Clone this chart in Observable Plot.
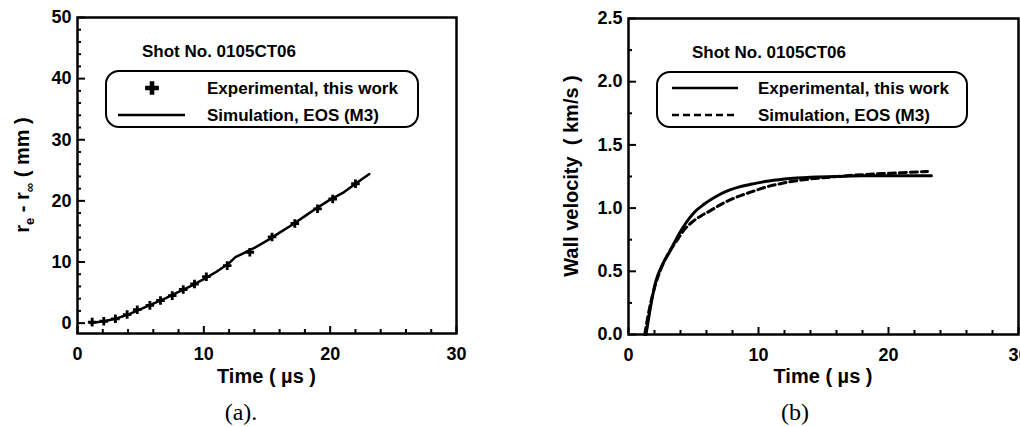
<!DOCTYPE html>
<html><head><meta charset="utf-8">
<script src="https://cdn.jsdelivr.net/npm/d3@7"></script>
<script src="https://cdn.jsdelivr.net/npm/@observablehq/plot@0.6"></script>
<style>
body{margin:0;background:#fff;}
#wrap{position:relative;width:1020px;height:427px;overflow:hidden;background:#fff;}
.panel{position:absolute;top:0;}
#overlay{position:absolute;left:0;top:0;pointer-events:none;}
</style></head>
<body>
<div id="wrap">
  <div id="pa" class="panel" style="left:0"></div>
  <div id="pb" class="panel" style="left:510px"></div>
</div>
<script>
// ---------- data: panel (a) ----------
const expTimeA = [1.16, 2.08, 3.0, 3.93, 4.73, 5.73, 6.57, 7.5, 8.37, 9.26, 10.2, 11.85, 13.64, 15.4, 17.2, 19.0, 20.2, 22.0];
const expRadA  = [0.16, 0.3, 0.7, 1.4, 2.2, 2.9, 3.7, 4.5, 5.5, 6.4, 7.6, 9.4, 11.6, 14.1, 16.3, 18.7, 20.3, 22.8];
const simTimeA = [1.0, 2.0, 3.0, 4.0, 5.0, 6.0, 7.0, 8.0, 9.0, 10.0, 11.0, 12.0, 12.5, 13.0, 14.0, 15.0, 16.0, 17.0, 18.0, 19.0, 20.0, 21.0, 22.0, 23.1];
const simRadA  = [0.0, 0.25, 0.7, 1.4, 2.3, 3.2, 4.1, 5.1, 6.1, 7.2, 8.4, 9.8, 10.8, 11.3, 12.3, 13.5, 14.8, 16.1, 17.5, 18.9, 20.2, 21.3, 22.8, 24.4];
// ---------- data: panel (b) ----------
const expTimeB = [1.35, 1.7, 2.1, 2.6, 3.2, 3.8, 4.4, 5.0, 5.8, 6.7, 7.7, 8.6, 9.5, 10.5, 12.0, 14.0, 16.0, 18.0, 20.0, 22.0, 23.3];
const expVelB  = [0, 0.22, 0.42, 0.55, 0.66, 0.78, 0.88, 0.96, 1.03, 1.09, 1.14, 1.17, 1.19, 1.21, 1.23, 1.245, 1.25, 1.255, 1.255, 1.255, 1.255];
const simTimeB = [1.25, 1.6, 2.0, 2.5, 3.0, 3.7, 4.3, 4.9, 5.6, 6.3, 7.3, 8.4, 9.5, 10.7, 12.0, 13.0, 15.0, 17.0, 19.0, 21.0, 23.0];
const simVelB  = [0, 0.2, 0.37, 0.52, 0.63, 0.74, 0.83, 0.89, 0.94, 0.98, 1.04, 1.09, 1.13, 1.17, 1.2, 1.218, 1.24, 1.258, 1.27, 1.28, 1.29];
// ---------- ticks / labels ----------
const xMajor = [0, 10, 20, 30];
const xMinor = [2, 4, 6, 8, 12, 14, 16, 18, 22, 24, 26, 28];
const yMajorA = [0, 10, 20, 30, 40, 50];
const yMinorA = [2, 4, 6, 8, 12, 14, 16, 18, 22, 24, 26, 28, 32, 34, 36, 38, 42, 44, 46, 48];
const yMajorB = [0, 0.5, 1.0, 1.5, 2.0, 2.5];
const yMinorB = [0.25, 0.75, 1.25, 1.75, 2.25];
const shotLabel = "Shot No. 0105CT06";
const legendA = ["Experimental, this work", "Simulation, EOS (M3)"];
const legendB = ["Experimental, this work", "Simulation, EOS (M3)"];
const xLabel = "Time ( \u00b5s )";
const yLabelB = "Wall velocity  ( km/s )";
const captions = ["(a).", "(b)"];

const W = 510, H = 390;
const xDom = [0, 30], yDomA = [-1.7, 50], yDomB = [0, 2.5];
const font = {fontFamily: '"Liberation Sans", Arial, sans-serif', fontSize: "18px", fontWeight: "bold", background: "transparent", color: "#000"};

// inward tick marks drawn as rules through the plot's own scales
function tickMarks(fw, fh, yDom, xmaj, xmin, ymaj, ymin) {
  const kx = (xDom[1] - xDom[0]) / fw, ky = (yDom[1] - yDom[0]) / fh;
  const s = {stroke: "#000", strokeWidth: 2};
  return [
    Plot.ruleX(xmaj, {x: d => d, y1: yDom[0], y2: yDom[0] + 7 * ky, ...s}),
    Plot.ruleX(xmin, {x: d => d, y1: yDom[0], y2: yDom[0] + 4 * ky, ...s}),
    Plot.ruleY(ymaj, {y: d => d, x1: xDom[0], x2: xDom[0] + 8 * kx, ...s}),
    Plot.ruleY(ymin, {y: d => d, x1: xDom[0], x2: xDom[0] + 4 * kx, ...s})
  ];
}

// ---------- panel (a) ----------
const mA = {left: 77, top: 17, right: 54, bottom: 57};
const fwA = W - mA.left - mA.right, fhA = H - mA.top - mA.bottom;
const expA = expTimeA.map((t, i) => ({t, r: expRadA[i]}));
const simA = simTimeA.map((t, i) => ({t, r: simRadA[i]}));
const plotA = Plot.plot({
  width: W, height: H,
  marginLeft: mA.left, marginTop: mA.top, marginRight: mA.right, marginBottom: mA.bottom,
  style: font,
  x: {domain: xDom},
  y: {domain: yDomA},
  marks: [
    Plot.axisX({ticks: xMajor, tickSize: 0, tickPadding: 14, label: null}),
    Plot.axisY({ticks: yMajorA, tickSize: 0, tickPadding: 6, label: null}),
    ...tickMarks(fwA, fhA, yDomA, xMajor, xMinor, yMajorA, yMinorA),
    Plot.line(simA, {x: "t", y: "r", stroke: "#000", strokeWidth: 2.5}),
    Plot.dot(expA, {x: "t", y: "r", symbol: "cross", r: 3.6, fill: "#000", stroke: "none"}),
    Plot.frame({stroke: "#000", strokeWidth: 2.5})
  ]
});
document.getElementById("pa").appendChild(plotA);

// ---------- panel (b) ----------
const mB = {left: 118, top: 18, right: 2, bottom: 56};
const fwB = W - mB.left - mB.right, fhB = H - mB.top - mB.bottom;
const expB = expTimeB.map((t, i) => ({t, v: expVelB[i]}));
const simB = simTimeB.map((t, i) => ({t, v: simVelB[i]}));
const plotB = Plot.plot({
  width: W, height: H,
  marginLeft: mB.left, marginTop: mB.top, marginRight: mB.right, marginBottom: mB.bottom,
  style: font,
  x: {domain: xDom},
  y: {domain: yDomB},
  marks: [
    Plot.axisX({ticks: xMajor, tickSize: 0, tickPadding: 14, label: null}),
    Plot.axisY({ticks: yMajorB, tickSize: 0, tickPadding: 6, tickFormat: d3.format(".1f"), label: null}),
    ...tickMarks(fwB, fhB, yDomB, xMajor, xMinor, yMajorB, yMinorB),
    Plot.line(simB, {x: "t", y: "v", stroke: "#000", strokeWidth: 3, strokeDasharray: "7,4", curve: "monotone-x"}),
    Plot.line(expB, {x: "t", y: "v", stroke: "#000", strokeWidth: 3, curve: "monotone-x"}),
    Plot.frame({stroke: "#000", strokeWidth: 2.5})
  ]
});
document.getElementById("pb").appendChild(plotB);

// ---------- overlay: axis titles, annotations, legends, captions ----------
const FF = '"Liberation Sans", Arial, sans-serif';
const ov = d3.select("#wrap").append("svg").attr("id", "overlay")
  .attr("width", 1020).attr("height", 427).attr("viewBox", "0 0 1020 427");
function addText(sel, x, y, str, size, anchor = "start") {
  return sel.append("text").attr("x", x).attr("y", y).attr("font-family", FF)
    .attr("font-size", size).attr("font-weight", "bold").attr("fill", "#000")
    .attr("text-anchor", anchor).text(str);
}
const oxB = 510;
// x titles
addText(ov, mA.left + fwA / 2, 383, xLabel, 20, "middle");
addText(ov, oxB + mB.left + fwB / 2, 383, xLabel, 20, "middle");
// y title (a) with subscripts
const yl = ov.append("text").attr("transform", `translate(29,${mA.top + fhA / 2}) rotate(-90)`)
  .attr("font-family", FF).attr("font-size", 20).attr("font-weight", "bold").attr("text-anchor", "middle").attr("fill", "#000");
yl.append("tspan").text("r");
yl.append("tspan").attr("font-size", 13).attr("dy", 5).text("e");
yl.append("tspan").attr("dy", -5).text(" - r");
yl.append("tspan").attr("font-size", 13).attr("dy", 5).text("\u221e");
yl.append("tspan").attr("dy", -5).text(" ( mm )");
// y title (b)
ov.append("text").attr("transform", `translate(578,${mB.top + fhB / 2}) rotate(-90)`)
  .attr("font-family", FF).attr("font-size", 20).attr("font-weight", "bold").attr("text-anchor", "middle").attr("fill", "#000")
  .style("white-space", "pre").text(yLabelB);
// annotations
addText(ov, 142, 57, shotLabel, 17);
addText(ov, 692, 58, shotLabel, 17);
// legend (a)
{
  const g = ov.append("g");
  g.append("rect").attr("x", 106).attr("y", 71).attr("width", 312).attr("height", 56).attr("rx", 13)
    .attr("fill", "#fff").attr("stroke", "#000").attr("stroke-width", 2);
  g.append("path").attr("transform", "translate(152,88)").attr("d", d3.symbol(d3.symbolCross, 105)()).attr("fill", "#000");
  g.append("line").attr("x1", 118).attr("x2", 185).attr("y1", 115).attr("y2", 115).attr("stroke", "#000").attr("stroke-width", 2.5);
  addText(g, 207, 94, legendA[0], 17);
  addText(g, 207, 121, legendA[1], 17);
}
// legend (b)
{
  const g = ov.append("g");
  g.append("rect").attr("x", 657).attr("y", 72).attr("width", 310).attr("height", 55).attr("rx", 13)
    .attr("fill", "#fff").attr("stroke", "#000").attr("stroke-width", 2);
  g.append("line").attr("x1", 672).attr("x2", 738).attr("y1", 88).attr("y2", 88).attr("stroke", "#000").attr("stroke-width", 2.5);
  g.append("line").attr("x1", 672).attr("x2", 738).attr("y1", 115).attr("y2", 115).attr("stroke", "#000").attr("stroke-width", 2.5).attr("stroke-dasharray", "7,4");
  addText(g, 758, 94, legendB[0], 17);
  addText(g, 758, 121, legendB[1], 17);
}
// captions
ov.append("text").attr("x", 241).attr("y", 420).attr("text-anchor", "middle")
  .attr("font-family", '"Liberation Serif", "Times New Roman", serif').attr("font-size", 24).attr("fill", "#000").text(captions[0]);
ov.append("text").attr("x", 795).attr("y", 420).attr("text-anchor", "middle")
  .attr("font-family", '"Liberation Serif", "Times New Roman", serif').attr("font-size", 24).attr("fill", "#000").text(captions[1]);
</script>
</body></html>
